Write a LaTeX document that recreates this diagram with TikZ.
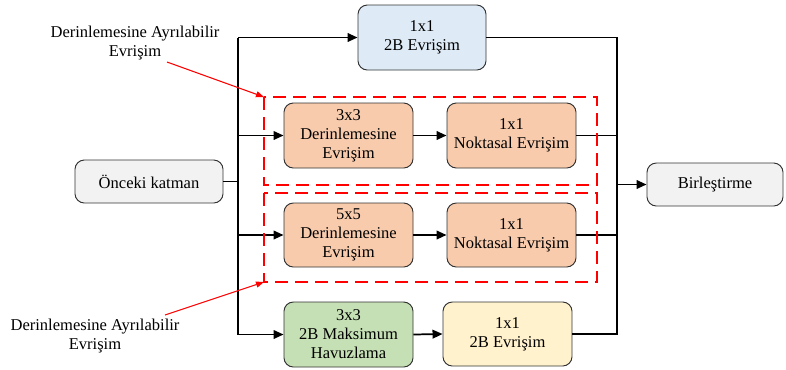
\documentclass[tikz,border=0pt]{standalone}
\usepackage{fontspec}
\setmainfont{Liberation Serif}
\usepackage{xcolor}
\usetikzlibrary{arrows.meta}

\definecolor{boxblue}{HTML}{DEEBF7}
\definecolor{boxorange}{HTML}{F8CBAD}
\definecolor{boxgreen}{HTML}{C5E0B4}
\definecolor{boxyellow}{HTML}{FFF2CC}
\definecolor{boxgray}{HTML}{F2F2F2}
\definecolor{boxline}{HTML}{333333}

\tikzset{
  layer/.style={draw=boxline,line width=0.7pt,rounded corners=7pt,align=center,
    minimum width=96.75pt,minimum height=48.75pt,inner sep=2pt},
  flow/.style={line width=1.3pt,-{Triangle[length=7.5pt,width=6.5pt]}},
  wire/.style={line width=1.3pt},
  sepbox/.style={red,line width=1.4pt,dash pattern=on 10pt off 5pt},
  note/.style={red,line width=0.8pt,-{Triangle[length=6pt,width=4.5pt]}}
}

\begin{document}
\begin{tikzpicture}[x=0.75pt,y=-0.75pt,font=\rmfamily\fontsize{12.4}{14.25}\selectfont]
        \useasboundingbox (0,0) rectangle (786,369);
        % layers
        \node[layer,fill=boxgray,minimum width=111pt,minimum height=32.25pt] (prev) at (149,181.5) {Önceki katman};
        \node[layer,fill=boxblue,minimum width=96pt] (top) at (422,37.5) {1x1\\2B Evrişim};
        \node[layer,fill=boxorange] (dw1) at (348.5,135.5) {3x3\\Derinlemesine\\Evrişim};
        \node[layer,fill=boxorange] (pw1) at (511.5,135.5) {1x1\\Noktasal Evrişim};
        \node[layer,fill=boxorange,minimum height=48pt] (dw2) at (348.5,235) {5x5\\Derinlemesine\\Evrişim};
        \node[layer,fill=boxorange,minimum height=48pt] (pw2) at (511.5,235) {1x1\\Noktasal Evrişim};
        \node[layer,fill=boxgreen] (pool) at (348.5,334.5) {3x3\\2B Maksimum\\Havuzlama};
        \node[layer,fill=boxyellow,minimum height=48pt] (conv) at (507.5,334) {1x1\\2B Evrişim};
        \node[layer,fill=boxgray,minimum width=102pt,minimum height=32.25pt] (merge) at (715,184.5) {Birleştirme};
        % junctions
        \coordinate (split) at (238,0);
        \coordinate (join) at (617,0);
        % left fan-out
        \draw[wire] (prev.east) -- (prev.east -| split);
        \draw[wire] (top.west -| split) -- (pool.west -| split);
        \draw[flow] (top.west -| split) -- (top.west);
        \draw[flow] (dw1.west -| split) -- (dw1.west);
        \draw[flow] (dw2.west -| split) -- (dw2.west);
        \draw[flow] (pool.west -| split) -- (pool.west);
        \draw[flow] (dw1) -- (pw1);
        \draw[flow] (dw2) -- (pw2);
        \draw[flow] (pool.east) -- (conv.west);
        % right fan-in
        \draw[wire] (top.east) -- (top.east -| join) -- (conv.east -| join) -- (conv.east);
        \draw[wire] (pw1.east) -- (pw1.east -| join);
        \draw[wire] (pw2.east) -- (pw2.east -| join);
        \draw[flow] (merge.west -| join) -- (merge.west);
        % separable groups
        \draw[sepbox] (264,97) rectangle (597,185);
        \draw[sepbox] (264,193) rectangle (597,282);
        \coordinate (grp1) at (264,97);
        \coordinate (grp2) at (264,282);
        \node[align=center] (lbl1) at (135,43) {Derinlemesine Ayrılabilir\\Evrişim};
        \node[align=center] (lbl2) at (95,336) {Derinlemesine Ayrılabilir\\Evrişim};
        \draw[note] (167,62) -- (grp1);
        \draw[note] (165,315) -- (grp2);
    \end{tikzpicture}
\end{document}
